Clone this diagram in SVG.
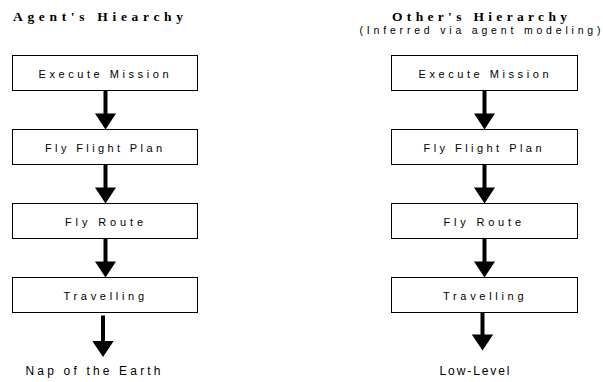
<svg xmlns="http://www.w3.org/2000/svg" width="603" height="382" viewBox="0 0 603 382">
<style>
.box{fill:#fff;stroke:#000;stroke-width:1}
.lbl{font-family:"Liberation Sans",Arial,sans-serif;font-size:11px;fill:#000}
.title{font-family:"Liberation Serif","Times New Roman",serif;font-size:13.5px;font-weight:bold;fill:#000}
.sub{font-family:"Liberation Sans",Arial,sans-serif;font-size:10.5px;fill:#000}
.end{font-family:"Liberation Sans",Arial,sans-serif;font-size:12px;fill:#000}
.shaft{stroke:#000;stroke-width:4;fill:none}
.head{fill:#000}
</style>
<rect width="603" height="382" fill="#fff"/>
<g id="titles">
<text class="title" x="13" y="20.5" textLength="170" lengthAdjust="spacing">Agent's Hiearchy</text>
<text class="title" x="392" y="20.5" textLength="175" lengthAdjust="spacing">Other's Hierarchy</text>
<text class="sub" x="359.5" y="33.5" textLength="241" lengthAdjust="spacing">(Inferred via agent modeling)</text>
</g>
<g id="connectors">
<line class="shaft" x1="105.5" y1="91" x2="105.5" y2="114"/>
<polygon class="head" points="95,113.5 116,113.5 105.5,129.5"/>
<line class="shaft" x1="105.5" y1="165" x2="105.5" y2="188"/>
<polygon class="head" points="95,187.5 116,187.5 105.5,203.5"/>
<line class="shaft" x1="105.5" y1="239" x2="105.5" y2="262"/>
<polygon class="head" points="95,261.5 116,261.5 105.5,277.5"/>
<line class="shaft" x1="103" y1="315.5" x2="103" y2="341.5"/>
<polygon class="head" points="92.3,341 113.7,341 103,357"/>
<line class="shaft" x1="484.5" y1="91" x2="484.5" y2="114"/>
<polygon class="head" points="474,113.5 495,113.5 484.5,129.5"/>
<line class="shaft" x1="484.5" y1="165" x2="484.5" y2="188"/>
<polygon class="head" points="474,187.5 495,187.5 484.5,203.5"/>
<line class="shaft" x1="484.5" y1="239" x2="484.5" y2="262"/>
<polygon class="head" points="474,261.5 495,261.5 484.5,277.5"/>
<line class="shaft" x1="482.5" y1="310" x2="482.5" y2="335"/>
<polygon class="head" points="471.8,334.5 493.2,334.5 482.5,350.5"/>
</g>
<g id="left-execute-mission">
<rect class="box" x="12.5" y="55.5" width="185" height="35"/>
<text class="lbl" x="38.5" y="77.5" textLength="130" lengthAdjust="spacing">Execute Mission</text>
</g>
<g id="left-fly-flight-plan">
<rect class="box" x="12.5" y="129.5" width="185" height="35"/>
<text class="lbl" x="45" y="151.5" textLength="117" lengthAdjust="spacing">Fly Flight Plan</text>
</g>
<g id="left-fly-route">
<rect class="box" x="12.5" y="203.5" width="185" height="35"/>
<text class="lbl" x="65" y="225.5" textLength="78" lengthAdjust="spacing">Fly Route</text>
</g>
<g id="left-travelling">
<rect class="box" x="12.5" y="277.5" width="185" height="35"/>
<text class="lbl" x="63.5" y="299.5" textLength="80.5" lengthAdjust="spacing">Travelling</text>
</g>
<g id="left-nap-of-the-earth">
<text class="end" x="25.5" y="375" textLength="135" lengthAdjust="spacing">Nap of the Earth</text>
</g>
<g id="right-execute-mission">
<rect class="box" x="391.5" y="55.5" width="186" height="35"/>
<text class="lbl" x="418.5" y="77.5" textLength="130" lengthAdjust="spacing">Execute Mission</text>
</g>
<g id="right-fly-flight-plan">
<rect class="box" x="391.5" y="129.5" width="186" height="35"/>
<text class="lbl" x="423.5" y="151.5" textLength="118" lengthAdjust="spacing">Fly Flight Plan</text>
</g>
<g id="right-fly-route">
<rect class="box" x="391.5" y="203.5" width="186" height="35"/>
<text class="lbl" x="443.5" y="225.5" textLength="77.5" lengthAdjust="spacing">Fly Route</text>
</g>
<g id="right-travelling">
<rect class="box" x="391.5" y="277.5" width="186" height="35"/>
<text class="lbl" x="443" y="299.5" textLength="80.5" lengthAdjust="spacing">Travelling</text>
</g>
<g id="right-low-level">
<text class="end" x="439.5" y="375" textLength="70" lengthAdjust="spacing">Low-Level</text>
</g>
</svg>
